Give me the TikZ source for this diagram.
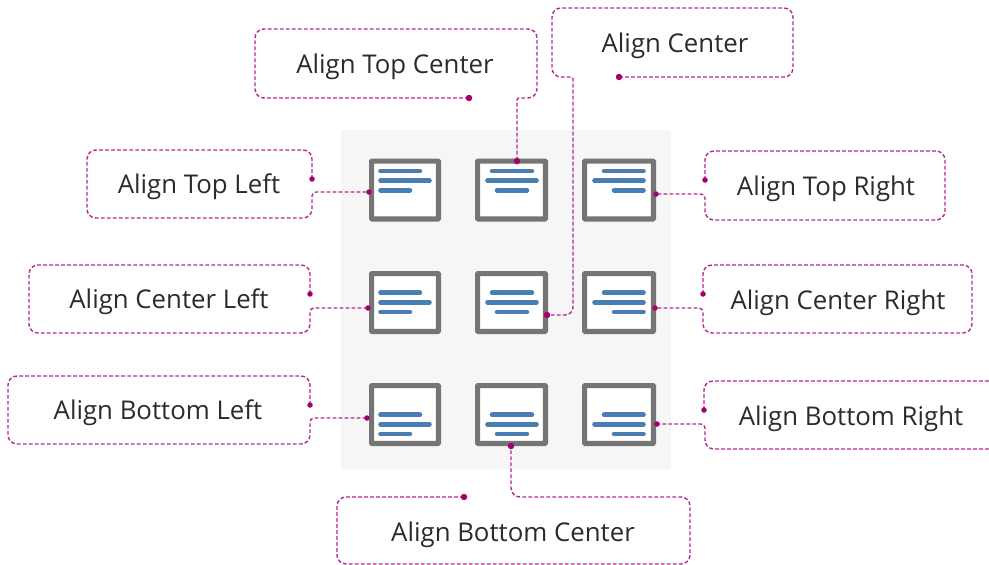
\documentclass[tikz,border=0pt]{standalone}
\usepackage{fontspec}
\setmainfont{Open Sans}
\definecolor{mag}{HTML}{B02A90}
\definecolor{magdot}{HTML}{A5006F}
\definecolor{scrgray}{HTML}{757575}
\definecolor{barblue}{HTML}{4A7DB2}
\definecolor{panel}{HTML}{F6F6F6}
\definecolor{ink}{HTML}{2B2B2B}
\tikzset{
  lead/.style={draw=mag,line width=1.4pt,dash pattern=on 3.8pt off 2.2pt,rounded corners=9pt},
  tip/.style={circle,fill=magdot,inner sep=0pt,minimum size=5.5pt},
  bigtip/.style={circle,fill=magdot,inner sep=0pt,minimum size=6.5pt},
  screen/.style={draw=scrgray,fill=white,line width=5.2pt,inner sep=0pt,minimum height=57.8pt,rounded corners=0.6pt},
  bar/.style={draw=barblue,line width=4.6pt,line cap=round},
  lbl/.style={text=ink,font=\fontsize{25.8}{30}\selectfont,inner sep=0pt}
}
\begin{document}
\begin{tikzpicture}[x=1pt,y=-1pt]
\useasboundingbox (0,0) rectangle (989,565);
\node[fill=panel,minimum width=330pt,minimum height=339pt,inner sep=0pt] (bg) at (506,299.5) {};
% screens
\foreach \cn/\cx/\cw in {l/405/66.8,c/511.5/67.8,r/619/68.8}{
  \foreach \rn/\ry in {t/190,m/302.5,b/414.5}{
    \node[screen,minimum width=\cw pt] (s\rn\cn) at (\cx,\ry) {};
  }
}
% bars
\foreach \rn/\ry in {t/180.7,m/302.3,b/424.3}{
  \draw[bar] (380.5,\ry-9.6) -- (420,\ry-9.6);
  \draw[bar] (380.5,\ry) -- (429.5,\ry);
  \draw[bar] (380.5,\ry+9.6) -- (410,\ry+9.6);
  \draw[bar] (492,\ry-9.6) -- (532,\ry-9.6);
  \draw[bar] (487.5,\ry) -- (536.5,\ry);
  \draw[bar] (497,\ry+9.6) -- (527,\ry+9.6);
  \draw[bar] (604,\ry-9.6) -- (643.5,\ry-9.6);
  \draw[bar] (594.5,\ry) -- (643.5,\ry);
  \draw[bar] (614,\ry+9.6) -- (643.5,\ry+9.6);
}
% labels
\node[lbl] (ltl) at (199,187) {Align Top Left};
\node[lbl] (ltc) at (395,67) {Align Top Center};
\node[lbl] (lcc) at (675,46) {Align Center};
\node[lbl] (ltr) at (826,189) {Align Top Right};
\node[lbl] (lml) at (169,302) {Align Center Left};
\node[lbl] (lmr) at (838,303) {Align Center Right};
\node[lbl] (lbl) at (158,413) {Align Bottom Left};
\node[lbl] (lbr) at (851,419) {Align Bottom Right};
\node[lbl] (lbc) at (513,535) {Align Bottom Center};
% anchor points
\coordinate (atl) at (312,179); \coordinate (ptl) at (369,192);
\coordinate (atc) at (469,98);  \coordinate (ptc) at (517,161);
\coordinate (acc) at (619,77);  \coordinate (pcc) at (547,315);
\coordinate (atr) at (705,180); \coordinate (ptr) at (656,194);
\coordinate (aml) at (310,294); \coordinate (pml) at (368,308);
\coordinate (amr) at (703,294); \coordinate (pmr) at (655,308);
\coordinate (abl) at (310,405); \coordinate (pbl) at (367,418);
\coordinate (abr) at (704,410); \coordinate (pbr) at (657,424);
\coordinate (abc) at (464,497); \coordinate (pbc) at (511,446);
% callouts
\draw[lead] (atl) -- (312,150) -- (87,150) -- (87,218) -- (312,218) [rounded corners=4pt] -- (312,192) -- (ptl);
\draw[lead] (atc) -- (255,98) -- (255,29) -- (537,29) -- (537,98) [rounded corners=2pt] -- (517,98) -- (ptc);
\draw[lead] (acc) -- (793,77) -- (793,8) -- (552,8) -- (552,77) [rounded corners=2pt] -- (573,77) [rounded corners=8pt] -- (573,315) -- (pcc);
\draw[lead] (atr) -- (705,151) -- (945,151) -- (945,220) -- (705,220) [rounded corners=4pt] -- (705,194) -- (ptr);
\draw[lead] (aml) -- (310,265) -- (29,265) -- (29,333) -- (310,333) [rounded corners=4pt] -- (310,308) -- (pml);
\draw[lead] (amr) -- (703,265) -- (972,265) -- (972,333) -- (703,333) [rounded corners=4pt] -- (703,308) -- (pmr);
\draw[lead] (abl) -- (310,376) -- (8,376) -- (8,444) -- (310,444) [rounded corners=4pt] -- (310,418) -- (pbl);
\draw[lead] (abr) -- (704,381) -- (989,381);
\draw[lead] (989,449) -- (705,449) [rounded corners=4pt] -- (705,424) -- (pbr);
\draw[lead] (abc) -- (337,497) -- (337,564) -- (690,564) -- (690,497) -- (511,497) -- (pbc);
% dots
\foreach \p in {atl,ptl,atr,ptr,aml,pml,amr,pmr,abl,pbl,abr,pbr}{\node[tip] at (\p) {};}
\foreach \p in {atc,ptc,acc,pcc,abc,pbc}{\node[bigtip] at (\p) {};}
\end{tikzpicture}
\end{document}
